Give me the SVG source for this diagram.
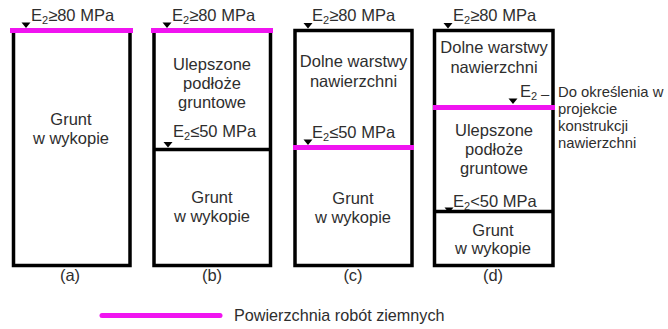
<svg xmlns="http://www.w3.org/2000/svg" width="668" height="329" viewBox="0 0 668 329">
<style>
.bg{fill:#ffffff}
.box{fill:none;stroke:#000;stroke-width:3.5}
.sep{stroke:#000;stroke-width:3.5}
.mag{stroke:#f014f0;stroke-width:5}
.tri{fill:#000}
.t{font-family:"Liberation Sans",Arial,sans-serif;font-size:16.5px;fill:#2e2e2e}
.c{text-anchor:middle}
.s{font-size:11px}
.n{font-family:"Liberation Sans",Arial,sans-serif;font-size:14px;fill:#2e2e2e}
.lg{font-size:16.2px}
</style>
<rect class="bg" x="0" y="0" width="668" height="329"/>

<g id="box-a">
<rect class="box" x="13.5" y="30.5" width="116.5" height="235"/>
<text class="t c" transform="translate(71,125)"><tspan x="0">Grunt</tspan><tspan x="0" dy="19">w wykopie</tspan></text>
<text class="t c" transform="translate(70,281)">(a)</text>
</g>

<g id="box-b">
<rect class="box" x="154" y="30.5" width="116.5" height="235"/>
<line class="sep" x1="154" y1="149.5" x2="270.5" y2="149.5"/>
<text class="t c" transform="translate(212,70)"><tspan x="0">Ulepszone</tspan><tspan x="0" dy="19">podłoże</tspan><tspan x="0" dy="19">gruntowe</tspan></text>
<text class="t c" transform="translate(212,203)"><tspan x="0">Grunt</tspan><tspan x="0" dy="19">w wykopie</tspan></text>
<text class="t c" transform="translate(212,281)">(b)</text>
</g>

<g id="box-c">
<rect class="box" x="295" y="30.5" width="117" height="235"/>
<text class="t c" transform="translate(353.5,67)"><tspan x="0">Dolne warstwy</tspan><tspan x="0" dy="19.5">nawierzchni</tspan></text>
<text class="t c" transform="translate(353,204)"><tspan x="0">Grunt</tspan><tspan x="0" dy="19">w wykopie</tspan></text>
<text class="t c" transform="translate(353,281)">(c)</text>
</g>

<g id="box-d">
<rect class="box" x="434.5" y="30.5" width="118.5" height="235"/>
<line class="sep" x1="434.5" y1="211.5" x2="553" y2="211.5"/>
<text class="t c" transform="translate(494,53)"><tspan x="0">Dolne warstwy</tspan><tspan x="0" dy="19.5">nawierzchni</tspan></text>
<text class="t c" transform="translate(494,136)"><tspan x="0">Ulepszone</tspan><tspan x="0" dy="19">podłoże</tspan><tspan x="0" dy="19">gruntowe</tspan></text>
<text class="t c" transform="translate(493,236)"><tspan x="0">Grunt</tspan><tspan x="0" dy="18">w wykopie</tspan></text>
<text class="t c" transform="translate(493,281)">(d)</text>
</g>

<g id="surfaces">
<line class="mag" x1="10" y1="30.5" x2="133" y2="30.5"/>
<line class="mag" x1="151" y1="30.5" x2="273" y2="30.5"/>
<line class="mag" x1="293" y1="147.5" x2="414" y2="147.5"/>
<line class="mag" x1="433" y1="107.5" x2="555" y2="107.5"/>
</g>

<g id="levels">
<polygon class="tri" points="21.5,22.5 30.5,22.5 26,28"/>
<text class="t" transform="translate(31,21)">E<tspan class="s" dy="3">2</tspan><tspan dy="-3">≥80 MPa</tspan></text>
<polygon class="tri" points="162.5,22.5 171.5,22.5 167,28"/>
<text class="t" transform="translate(172,21)">E<tspan class="s" dy="3">2</tspan><tspan dy="-3">≥80 MPa</tspan></text>
<polygon class="tri" points="163.5,142 172.5,142 168,147.5"/>
<text class="t" transform="translate(173,137)">E<tspan class="s" dy="3">2</tspan><tspan dy="-3">≤50 MPa</tspan></text>
<polygon class="tri" points="303.5,23 312.5,23 308,28.5"/>
<text class="t" transform="translate(312,21)">E<tspan class="s" dy="3">2</tspan><tspan dy="-3">≥80 MPa</tspan></text>
<polygon class="tri" points="303.5,139.5 312.5,139.5 308,145"/>
<text class="t" transform="translate(312,138)">E<tspan class="s" dy="3">2</tspan><tspan dy="-3">≤50 MPa</tspan></text>
<polygon class="tri" points="443.5,23 452.5,23 448,28.5"/>
<text class="t" transform="translate(453,21)">E<tspan class="s" dy="3">2</tspan><tspan dy="-3">≥80 MPa</tspan></text>
<polygon class="tri" points="508.5,98.5 517.5,98.5 513,104"/>
<text class="t" transform="translate(520,97)">E<tspan class="s" dy="3">2</tspan></text>
<polygon class="tri" points="444.5,207.5 453.5,207.5 449,213"/>
<text class="t" transform="translate(453,207)">E<tspan class="s" dy="3">2</tspan><tspan dy="-3">&lt;50 MPa</tspan></text>
</g>

<g id="note">
<text class="n" transform="translate(541,99) scale(1.06,1)">–</text>
<text class="n" transform="translate(558,97) scale(1.06,1)"><tspan x="0">Do określenia w</tspan><tspan x="0" dy="17">projekcie</tspan><tspan x="0" dy="17">konstrukcji</tspan><tspan x="0" dy="17">nawierzchni</tspan></text>
</g>

<g id="legend">
<line class="mag" x1="102" y1="315.5" x2="220" y2="315.5" stroke-linecap="round"/>
<text class="t lg" transform="translate(234,321)">Powierzchnia robót ziemnych</text>
</g>
</svg>
